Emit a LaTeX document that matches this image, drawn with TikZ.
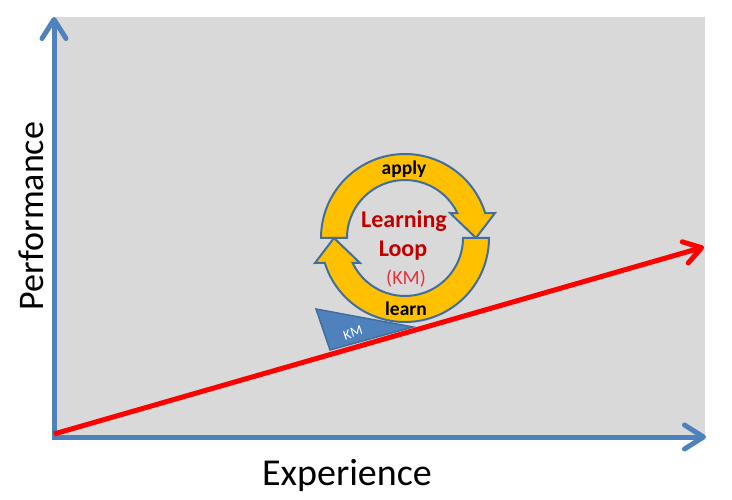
\documentclass[tikz,border=0pt]{standalone}
\usepackage{fontspec}
\setmainfont{Carlito}
\usetikzlibrary{arrows.meta}
\definecolor{axisblue}{RGB}{79,129,189}
\definecolor{bggray}{RGB}{217,217,217}
\definecolor{loopgold}{RGB}{255,192,0}
\definecolor{loopedge}{RGB}{65,110,155}
\definecolor{darkred}{RGB}{192,0,0}
\definecolor{kmred}{RGB}{232,48,60}

\begin{document}
\begin{tikzpicture}[x=1pt,y=1pt,
  axis/.style={draw=axisblue,line width=5pt,{Straight Barb[length=19pt,width=24pt,round]}-{Straight Barb[length=19pt,width=24pt,round]}},
  ringarrow/.style={fill=loopgold,draw=loopedge,line width=2pt}]
\useasboundingbox (0,0) rectangle (732,499);
\fill[bggray] (55,62) rectangle (705,482);
\coordinate (o) at (54,62);
\coordinate (ytop) at (54,482);
\coordinate (xend) at (706,62);
\draw[axis] (ytop) -- (o) -- (xend);
\filldraw[fill=axisblue,draw=loopedge,line width=1.5pt] (316,190) -- (330,149) -- (413,172) -- cycle;
\node[text=white,font=\fontsize{14}{16}\selectfont,rotate=18,inner sep=0pt] (kmtag) at (353,166) {KM};
\coordinate (start) at (54,65);
\coordinate (gain) at (704,252);
\draw[red,line width=5pt,-{Straight Barb[length=17pt,width=22pt,round]}] (start) -- (gain);
\begin{scope}[shift={(405,261)}]
\filldraw[ringarrow] (180:84) arc[start angle=180,end angle=17.3,radius=84] -- (90,25) -- (71,0) -- (45,25) -- (25.5:58) arc[start angle=25.5,end angle=180,radius=58] -- cycle;
\filldraw[ringarrow,rotate=180] (180:84) arc[start angle=180,end angle=17.3,radius=84] -- (90,25) -- (71,0) -- (45,25) -- (25.5:58) arc[start angle=25.5,end angle=180,radius=58] -- cycle;
\end{scope}
\node[font=\bfseries\fontsize{19.5}{22}\selectfont,anchor=base] (apply) at (404,324) {apply};
\node[font=\bfseries\fontsize{19.5}{22}\selectfont,anchor=base] (learn) at (406,183) {learn};
\node[font=\bfseries\fontsize{24}{28}\selectfont,text=darkred,anchor=base] (learning) at (404,271) {Learning};
\node[font=\bfseries\fontsize{24}{28}\selectfont,text=darkred,anchor=base] (loop) at (403,242) {Loop};
\node[font=\fontsize{20}{24}\selectfont,text=kmred,anchor=base] (km) at (406,214) {(KM)};
\node[font=\fontsize{38}{42}\selectfont,anchor=base] (xlabel) at (347,14) {Experience};
\node[font=\fontsize{36}{40}\selectfont,rotate=90,anchor=base] (ylabel) at (43,283) {Performance};
\end{tikzpicture}
\end{document}
